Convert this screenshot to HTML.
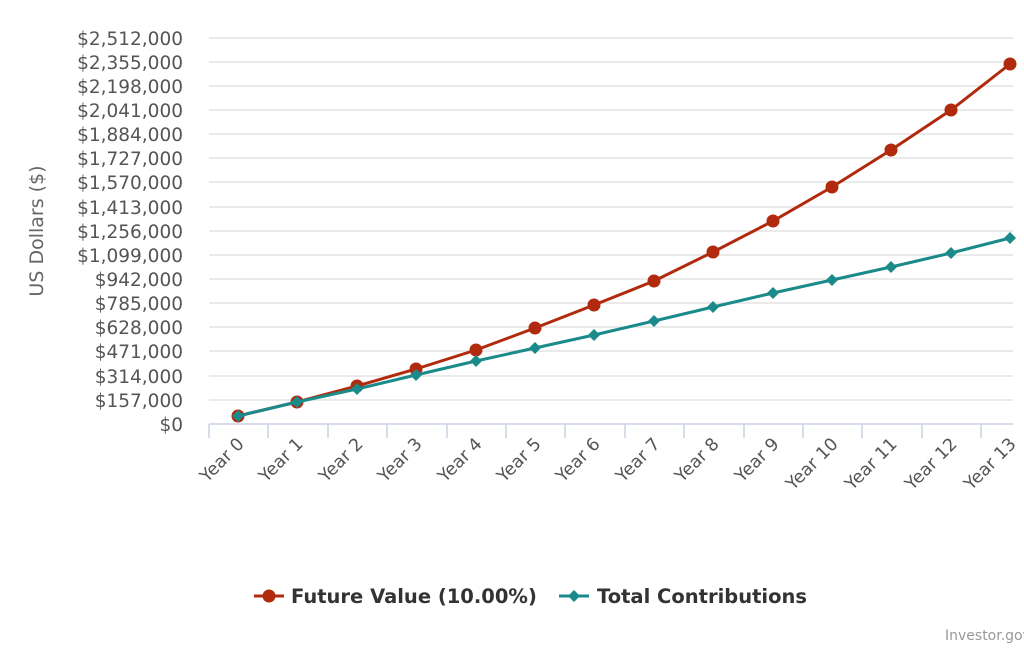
<!DOCTYPE html>
<html><head><meta charset="utf-8"><style>
body{margin:0;background:#fff;}
svg{display:block;font-family:"DejaVu Sans","Liberation Sans",sans-serif;}
</style></head><body>
<svg width="1024" height="649" viewBox="0 0 1024 649">
<g stroke="#e3e3e3" stroke-width="1.5">
<line x1="209" x2="1013" y1="38" y2="38"/><line x1="209" x2="1013" y1="62" y2="62"/><line x1="209" x2="1013" y1="86" y2="86"/><line x1="209" x2="1013" y1="110" y2="110"/><line x1="209" x2="1013" y1="134" y2="134"/><line x1="209" x2="1013" y1="158" y2="158"/><line x1="209" x2="1013" y1="182" y2="182"/><line x1="209" x2="1013" y1="207" y2="207"/><line x1="209" x2="1013" y1="231" y2="231"/><line x1="209" x2="1013" y1="255" y2="255"/><line x1="209" x2="1013" y1="279" y2="279"/><line x1="209" x2="1013" y1="303" y2="303"/><line x1="209" x2="1013" y1="327" y2="327"/><line x1="209" x2="1013" y1="351" y2="351"/><line x1="209" x2="1013" y1="376" y2="376"/><line x1="209" x2="1013" y1="400" y2="400"/>
</g>
<line x1="209" x2="1013" y1="424" y2="424" stroke="#c8d2e3" stroke-width="1.5"/>
<g stroke="#c8d2e3" stroke-width="1.5">
<line x1="209" x2="209" y1="424" y2="438"/><line x1="268" x2="268" y1="424" y2="438"/><line x1="328" x2="328" y1="424" y2="438"/><line x1="387" x2="387" y1="424" y2="438"/><line x1="447" x2="447" y1="424" y2="438"/><line x1="506" x2="506" y1="424" y2="438"/><line x1="565" x2="565" y1="424" y2="438"/><line x1="625" x2="625" y1="424" y2="438"/><line x1="684" x2="684" y1="424" y2="438"/><line x1="744" x2="744" y1="424" y2="438"/><line x1="803" x2="803" y1="424" y2="438"/><line x1="862" x2="862" y1="424" y2="438"/><line x1="922" x2="922" y1="424" y2="438"/><line x1="981" x2="981" y1="424" y2="438"/>
</g>
<g fill="#555" font-size="18.5" text-anchor="end">
<text x="183" y="45">$2,512,000</text><text x="183" y="69">$2,355,000</text><text x="183" y="93">$2,198,000</text><text x="183" y="117">$2,041,000</text><text x="183" y="141">$1,884,000</text><text x="183" y="165">$1,727,000</text><text x="183" y="189">$1,570,000</text><text x="183" y="214">$1,413,000</text><text x="183" y="238">$1,256,000</text><text x="183" y="262">$1,099,000</text><text x="183" y="286">$942,000</text><text x="183" y="310">$785,000</text><text x="183" y="334">$628,000</text><text x="183" y="358">$471,000</text><text x="183" y="383">$314,000</text><text x="183" y="407">$157,000</text><text x="183" y="431">$0</text>
</g>
<text transform="translate(43,231) rotate(-90)" fill="#666" font-size="19" text-anchor="middle">US Dollars ($)</text>
<g fill="#555" font-size="17.5" text-anchor="end">
<text transform="translate(245,445) rotate(-45)">Year 0</text>
<text transform="translate(304,445) rotate(-45)">Year 1</text>
<text transform="translate(364,445) rotate(-45)">Year 2</text>
<text transform="translate(423,445) rotate(-45)">Year 3</text>
<text transform="translate(483,445) rotate(-45)">Year 4</text>
<text transform="translate(542,445) rotate(-45)">Year 5</text>
<text transform="translate(601,445) rotate(-45)">Year 6</text>
<text transform="translate(661,445) rotate(-45)">Year 7</text>
<text transform="translate(720,445) rotate(-45)">Year 8</text>
<text transform="translate(780,445) rotate(-45)">Year 9</text>
<text transform="translate(839,445) rotate(-45)">Year 10</text>
<text transform="translate(898,445) rotate(-45)">Year 11</text>
<text transform="translate(958,445) rotate(-45)">Year 12</text>
<text transform="translate(1017,445) rotate(-45)">Year 13</text>
</g>
<polyline fill="none" stroke="#b22a0e" stroke-width="3" points="238,416 297,402 357,386 416,369 476,350 535,328 594,305 654,281 713,252 773,221 832,187 891,150 951,110 1010,64"/>
<g fill="#b22a0e">
<circle cx="238" cy="416" r="6.5"/><circle cx="297" cy="402" r="6.5"/><circle cx="357" cy="386" r="6.5"/><circle cx="416" cy="369" r="6.5"/><circle cx="476" cy="350" r="6.5"/><circle cx="535" cy="328" r="6.5"/><circle cx="594" cy="305" r="6.5"/><circle cx="654" cy="281" r="6.5"/><circle cx="713" cy="252" r="6.5"/><circle cx="773" cy="221" r="6.5"/><circle cx="832" cy="187" r="6.5"/><circle cx="891" cy="150" r="6.5"/><circle cx="951" cy="110" r="6.5"/><circle cx="1010" cy="64" r="6.5"/>
</g>
<polyline fill="none" stroke="#1a8a8a" stroke-width="3" points="238,416 297,402 357,389 416,375 476,361 535,348 594,335 654,321 713,307 773,293 832,280 891,267 951,253 1010,238"/>
<g fill="#1a8a8a">
<path d="M238 410l6 6-6 6-6-6z"/><path d="M297 396l6 6-6 6-6-6z"/><path d="M357 383l6 6-6 6-6-6z"/><path d="M416 369l6 6-6 6-6-6z"/><path d="M476 355l6 6-6 6-6-6z"/><path d="M535 342l6 6-6 6-6-6z"/><path d="M594 329l6 6-6 6-6-6z"/><path d="M654 315l6 6-6 6-6-6z"/><path d="M713 301l6 6-6 6-6-6z"/><path d="M773 287l6 6-6 6-6-6z"/><path d="M832 274l6 6-6 6-6-6z"/><path d="M891 261l6 6-6 6-6-6z"/><path d="M951 247l6 6-6 6-6-6z"/><path d="M1010 232l6 6-6 6-6-6z"/>
</g>
<line x1="254" x2="284" y1="596" y2="596" stroke="#b22a0e" stroke-width="3"/><circle cx="269" cy="596" r="6.5" fill="#b22a0e"/>
<text x="291" y="603" font-size="19.5" font-weight="bold" fill="#333">Future Value (10.00%)</text>
<line x1="559" x2="589" y1="596" y2="596" stroke="#1a8a8a" stroke-width="3"/><path d="M574 590l6 6-6 6-6-6z" fill="#1a8a8a"/>
<text x="597" y="603" font-size="19.5" font-weight="bold" fill="#333">Total Contributions</text>
<text x="945" y="640" font-size="14" fill="#999">Investor.gov</text>
</svg>
</body></html>
